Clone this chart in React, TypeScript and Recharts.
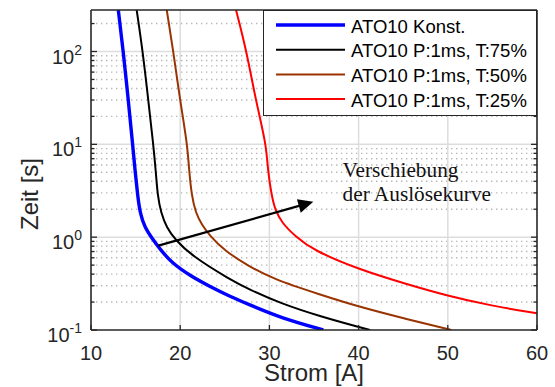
import React from "react"
import { LineChart, Line, XAxis, YAxis, ReferenceLine, ReferenceDot, Legend, Label } from "recharts"

// Strom [A] / Zeit [s]
const konstA = [13.06, 13.62, 14.18, 14.67, 14.93, 15.24, 15.49, 16.05, 16.8, 17.74, 19.08, 21.2, 23.34, 25.58, 27.83, 31.19, 36.04]
const konstT = [280, 100, 30, 10, 5.3, 2.77, 1.83, 1.26, 0.99, 0.74, 0.525, 0.38, 0.294, 0.23, 0.186, 0.136, 0.1]

const p75A = [15.12, 15.8, 16.42, 16.98, 17.25, 17.47, 17.85, 18.49, 19.42, 21.29, 25.58, 27.83, 31.19, 35.67, 41.28]
const p75T = [280, 100, 30, 10, 5.35, 2.77, 1.83, 1.26, 0.946, 0.63, 0.35, 0.271, 0.195, 0.14, 0.1]

const p50A = [18.49, 19.23, 19.98, 20.8, 20.99, 21.29, 21.74, 22.41, 23.34, 25.02, 27.63, 30.4, 35.67, 39.97, 45.01, 50.4]
const p50T = [280, 100, 30, 10, 5.35, 2.77, 1.83, 1.37, 1.03, 0.71, 0.49, 0.355, 0.241, 0.179, 0.134, 0.1]

const p25A = [26.26, 27.45, 28.46, 29.65, 29.81, 30.26, 30.63, 31.38, 32.87, 34.93, 40.16, 45.0, 49.9, 54.7, 60]
const p25T = [280, 100, 30, 10, 5.35, 2.77, 1.99, 1.43, 1.03, 0.72, 0.445, 0.32, 0.234, 0.184, 0.151]

const xTicks = [10, 20, 30, 40, 50, 60]
const xGrid = [20, 30, 40, 50]
const yMajor = [0.1, 1, 10, 100]
const yGrid = [1, 10, 100]
const yMinor = [0.2, 0.3, 0.4, 0.5, 0.6, 0.7, 0.8, 0.9, 2, 3, 4, 5, 6, 7, 8, 9, 20, 30, 40, 50, 60, 70, 80, 90, 200]
const yTicks = [...yMajor, ...yMinor].sort((a, b) => a - b)

const arrowFrom = { a: 17.55, t: 0.81 }
const arrowTo = { a: 34.92, t: 2.4 }
const noteAt = { a: 38.2, t: 4.5 }
const noteLines = ["Verschiebung", "der Auslösekurve"]

const series = [
  { name: "ATO10 Konst.", color: "#0000ff", width: 3.4, a: konstA, t: konstT },
  { name: "ATO10 P:1ms, T:75%", color: "#000000", width: 2, a: p75A, t: p75T },
  { name: "ATO10 P:1ms, T:50%", color: "#993300", width: 2, a: p50A, t: p50T },
  { name: "ATO10 P:1ms, T:25%", color: "#ff0000", width: 2, a: p25A, t: p25T },
]

const toPoints = (a: number[], t: number[]) => a.map((v, i) => ({ a: v, t: t[i] }))

const sans = "'Liberation Sans', Arial, Helvetica, sans-serif"
const ink = "#262626"

function LeftTick({ x, y, payload }: any) {
  const v = payload.value
  const major = yMajor.includes(v)
  return (
    <g>
      <line x1={x} x2={x + (major ? 6 : 3.5)} y1={y} y2={y} stroke={ink} strokeWidth={1.3} />
      {major && (
        <text x={x - 9} y={y + 12} textAnchor="end" fontSize={20} fill={ink} fontFamily={sans}>
          10<tspan dy={-9} fontSize={14}>{Math.round(Math.log10(v))}</tspan>
        </text>
      )}
    </g>
  )
}

function RightTick({ x, y, payload }: any) {
  const major = yMajor.includes(payload.value)
  return <line x1={x} x2={x - (major ? 6 : 3.5)} y1={y} y2={y} stroke={ink} strokeWidth={1.3} />
}

function BottomTick({ x, y, payload }: any) {
  return (
    <g>
      <line x1={x} x2={x} y1={y} y2={y - 5} stroke={ink} strokeWidth={1.3} />
      <text x={x} y={y + 30} textAnchor="middle" fontSize={20} fill={ink} fontFamily={sans}>
        {payload.value}
      </text>
    </g>
  )
}

function TopTick({ x, y }: any) {
  return <line x1={x} x2={x} y1={y} y2={y + 5} stroke={ink} strokeWidth={1.3} />
}

function ArrowShape(p: any) {
  const { x1, y1, x2, y2 } = p
  const ang = Math.atan2(y2 - y1, x2 - x1)
  const c = Math.cos(ang)
  const s = Math.sin(ang)
  const len = 15
  const half = 7
  const bx = x2 - len * c
  const by = y2 - len * s
  const pts = `${x2},${y2} ${bx - half * s},${by + half * c} ${bx + half * s},${by - half * c}`
  return (
    <g>
      <line x1={x1} y1={y1} x2={bx + 2 * c} y2={by + 2 * s} stroke="#000" strokeWidth={2.2} />
      <polygon points={pts} fill="#000" />
    </g>
  )
}

function NoteShape(p: any) {
  return (
    <text x={p.cx} y={p.cy} fontSize={21.3} fill="#111" fontFamily="'Liberation Serif', 'Times New Roman', serif">
      {noteLines.map((l, i) => (
        <tspan key={i} x={p.cx} dy={i === 0 ? 0 : 24}>
          {l}
        </tspan>
      ))}
    </text>
  )
}

function LegendBox({ payload }: any) {
  const order = (v: string) => series.findIndex((d) => d.name === v)
  const items = [...(payload || [])].sort((p: any, q: any) => order(p.value) - order(q.value))
  return (
    <div style={{ width: 274, height: 106, boxSizing: "border-box", background: "#fff", border: `1.5px solid ${ink}` }}>
      <svg width={271} height={103} style={{ display: "block" }}>
        {items.map((it: any, i: number) => {
          const s = series[order(it.value)]
          const y = 14 + i * 24.7
          return (
            <g key={it.value}>
              <line x1={12} x2={81} y1={y} y2={y} stroke={it.color} strokeWidth={s ? s.width : 2} />
              <text x={87} y={y + 1} dominantBaseline="central" fontSize={18.5} fill="#000" fontFamily={sans}>
                {it.value}
              </text>
            </g>
          )
        })}
      </svg>
    </div>
  )
}

export default function App() {
  return (
    <div>
      <style>{`body{margin:0}`}</style>
      <LineChart width={555} height={387} margin={{ top: 0, right: 0, bottom: 0, left: 0 }}>
        <XAxis
          xAxisId="bottom"
          dataKey="a"
          type="number"
          domain={[10, 60]}
          ticks={xTicks}
          interval={0}
          allowDataOverflow
          height={57}
          tickSize={0}
          tickMargin={0}
          tickLine={false}
          tick={<BottomTick />}
          axisLine={{ stroke: ink, strokeWidth: 1.6 }}
        >
          <Label
            content={({ viewBox }: any) => (
              <text x={viewBox.x + viewBox.width / 2} y={viewBox.y + 51} textAnchor="middle" fontSize={24} fill={ink} fontFamily={sans}>
                Strom [A]
              </text>
            )}
          />
        </XAxis>
        <XAxis
          xAxisId="top"
          orientation="top"
          type="number"
          domain={[10, 60]}
          ticks={xTicks}
          interval={0}
          allowDataOverflow
          height={10}
          tickSize={0}
          tickMargin={0}
          tickLine={false}
          tick={<TopTick />}
          axisLine={{ stroke: ink, strokeWidth: 1.6 }}
        />
        <YAxis
          yAxisId="left"
          dataKey="t"
          type="number"
          scale="log"
          domain={[0.1, 280]}
          ticks={yTicks}
          interval={0}
          allowDataOverflow
          width={91}
          tickSize={0}
          tickMargin={0}
          tickLine={false}
          tick={<LeftTick />}
          axisLine={{ stroke: ink, strokeWidth: 1.6 }}
        >
          <Label
            content={({ viewBox }: any) => {
              const cx = viewBox.x + 38
              const cy = viewBox.y + viewBox.height / 2 + 24
              return (
                <text x={cx} y={cy} transform={`rotate(-90, ${cx}, ${cy})`} textAnchor="middle" fontSize={24} fill={ink} fontFamily={sans}>
                  Zeit [s]
                </text>
              )
            }}
          />
        </YAxis>
        <YAxis
          yAxisId="right"
          orientation="right"
          type="number"
          scale="log"
          domain={[0.1, 280]}
          ticks={yTicks}
          interval={0}
          allowDataOverflow
          width={18}
          tickSize={0}
          tickMargin={0}
          tickLine={false}
          tick={<RightTick />}
          axisLine={{ stroke: ink, strokeWidth: 1.6 }}
        />

        {yMinor.map((v) => (
          <ReferenceLine key={`m${v}`} xAxisId="bottom" yAxisId="left" y={v} stroke="#b8b8b8" strokeWidth={1.4} strokeDasharray="1.4 3.6" />
        ))}
        {yGrid.map((v) => (
          <ReferenceLine key={`y${v}`} xAxisId="bottom" yAxisId="left" y={v} stroke="#dddddd" strokeWidth={1.5} />
        ))}
        {xGrid.map((v) => (
          <ReferenceLine key={`x${v}`} xAxisId="bottom" yAxisId="left" x={v} stroke="#dddddd" strokeWidth={1.5} />
        ))}

        {series.map((s) => (
          <Line
            key={s.name}
            xAxisId="bottom"
            yAxisId="left"
            data={toPoints(s.a, s.t)}
            dataKey="t"
            name={s.name}
            type="basis"
            stroke={s.color}
            strokeWidth={s.width}
            dot={false}
            activeDot={false}
            isAnimationActive={false}
          />
        ))}

        <ReferenceLine
          xAxisId="bottom"
          yAxisId="left"
          segment={[
            { x: arrowFrom.a, y: arrowFrom.t },
            { x: arrowTo.a, y: arrowTo.t },
          ]}
          shape={ArrowShape}
        />
        <ReferenceDot xAxisId="bottom" yAxisId="left" x={noteAt.a} y={noteAt.t} r={0} shape={NoteShape} />

        <Legend
          layout="horizontal"
          verticalAlign="middle"
          align="center"
          wrapperStyle={{ position: "absolute", left: 263, top: 10, width: 274, height: 106 }}
          content={<LegendBox />}
        />
      </LineChart>
    </div>
  )
}
